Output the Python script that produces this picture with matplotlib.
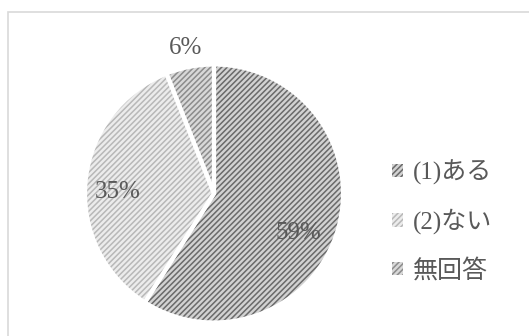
import matplotlib.pyplot as plt
from matplotlib.patches import Rectangle

plt.rcParams['font.family'] = ['Liberation Serif', 'Noto Sans CJK JP', 'DejaVu Sans']
plt.rcParams['hatch.linewidth'] = 1.1

labels = ['(1)ある', '(2)ない', '無回答']
values = [59, 35, 6]
faces = ['#d2d2d2', '#ececec', '#d8d8d8']
hatchcols = ['#6a6a6a', '#b8b8b8', '#8c8c8c']
txtcol = '#595959'

W, H = 529, 336
fig = plt.figure(figsize=(W / 100, H / 100), dpi=100)

# outer frame (cut off on right and bottom)
fig.patches.append(Rectangle((8 / W, -0.1), 1.2, (H - 12) / H + 0.1,
                             transform=fig.transFigure, fill=False,
                             edgecolor='#d9d9d9', linewidth=1.2))

cx, cy, r = 214, 193.5, 129
ax = fig.add_axes([(cx - r) / W, (H - cy - r) / H, 2 * r / W, 2 * r / H])

wedges, texts, autotexts = ax.pie(values, startangle=90, counterclock=False,
                                  colors=faces, autopct='%1.0f%%',
                                  wedgeprops=dict(linewidth=0),
                                  textprops=dict(color=txtcol, fontsize=18))
for w, hc in zip(wedges, hatchcols):
    w.set_hatch('//////')
    w.set_edgecolor(hc)

# white separators on top
ax.pie(values, startangle=90, counterclock=False, colors=['none'] * 3,
       wedgeprops=dict(linewidth=3, edgecolor='white', fill=False))

# label spots, like the data labels in the original
label_pos = [(0.651, -0.306), (-0.744, 0.012), (-0.217, 1.128)]
for t, p in zip(autotexts, label_pos):
    t.set_position(p)

ax.set_xlim(-1, 1)
ax.set_ylim(-1, 1)
ax.set_aspect('equal')

handles = [Rectangle((0, 0), 1, 1, facecolor=f, edgecolor=hc, hatch='//////',
                     linewidth=0) for f, hc in zip(faces, hatchcols)]
leg = fig.legend(handles, labels, loc='center left',
                 bbox_to_anchor=(392 / W, (H - 221) / H), frameon=False,
                 fontsize=18, labelcolor=txtcol, handlelength=0.45,
                 handleheight=0.45, handletextpad=0.4, labelspacing=0.95,
                 borderpad=0, borderaxespad=0)

fig.savefig('out.png', dpi=100)
